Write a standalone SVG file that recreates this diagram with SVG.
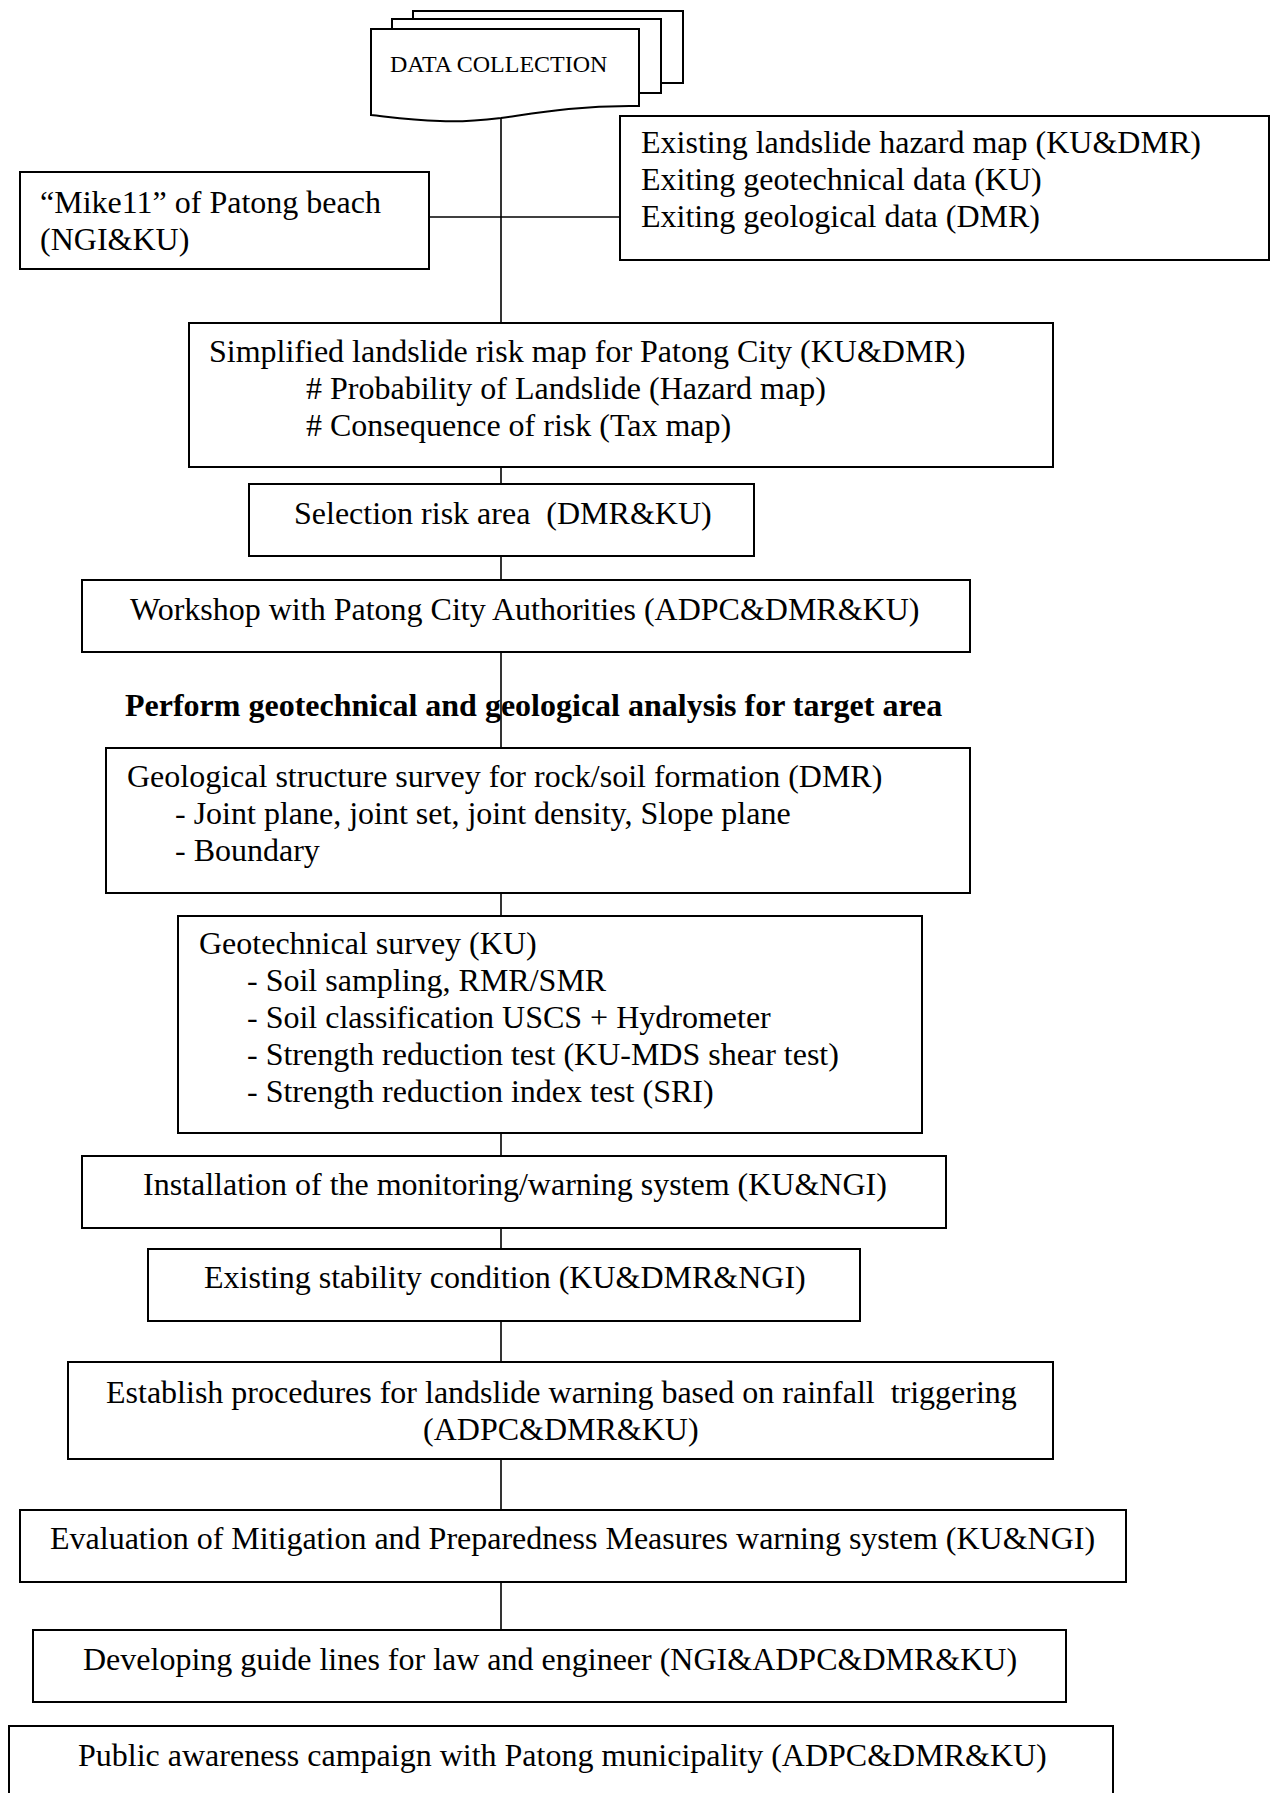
<svg xmlns="http://www.w3.org/2000/svg" width="1278" height="1793" viewBox="0 0 1278 1793">
<style>
.box{fill:#fff;stroke:#000;stroke-width:2}
.ln{fill:none;stroke:#000;stroke-width:1.6}
text{font-family:"Liberation Serif","Times New Roman",serif;font-size:32px;fill:#000;white-space:pre}
.small{font-size:24px}
.bold{font-weight:bold}
</style>
<rect width="1278" height="1793" fill="#fff"/>
<g id="connectors">
<line class="ln" x1="501" y1="117" x2="501" y2="323"/>
<line class="ln" x1="429" y1="217" x2="620" y2="217"/>
<line class="ln" x1="501" y1="467" x2="501" y2="484"/>
<line class="ln" x1="501" y1="556" x2="501" y2="580"/>
<line class="ln" x1="501" y1="652" x2="501" y2="748"/>
<line class="ln" x1="501" y1="893" x2="501" y2="916"/>
<line class="ln" x1="501" y1="1133" x2="501" y2="1156"/>
<line class="ln" x1="501" y1="1228" x2="501" y2="1249"/>
<line class="ln" x1="501" y1="1321" x2="501" y2="1362"/>
<line class="ln" x1="501" y1="1459" x2="501" y2="1510"/>
<line class="ln" x1="501" y1="1582" x2="501" y2="1630"/>
</g>
<g id="data-collection">
<rect class="box" x="413" y="11" width="270" height="72"/>
<rect class="box" x="392" y="19" width="269" height="74"/>
<path class="box" d="M371,29 H639 V106 C575,105 530,114 501,118 C475,121 455,122 440,121 C410,120 390,117 371,115 Z"/>
<text class="small" x="390" y="72">DATA COLLECTION</text>
</g>
<g id="mike11">
<rect class="box" x="20" y="172" width="409" height="97"/>
<text x="40" y="213">“Mike11” of Patong beach</text>
<text x="40" y="250">(NGI&amp;KU)</text>
</g>
<g id="existing-data">
<rect class="box" x="620" y="116" width="649" height="144"/>
<text x="641" y="153">Existing landslide hazard map (KU&amp;DMR)</text>
<text x="641" y="190">Exiting geotechnical data (KU)</text>
<text x="641" y="227">Exiting geological data (DMR)</text>
</g>
<g id="risk-map">
<rect class="box" x="189" y="323" width="864" height="144"/>
<text x="209" y="362">Simplified landslide risk map for Patong City (KU&amp;DMR)</text>
<text x="306" y="399"># Probability of Landslide (Hazard map)</text>
<text x="306" y="436"># Consequence of risk (Tax map)</text>
</g>
<g id="selection">
<rect class="box" x="249" y="484" width="505" height="72"/>
<text x="294" y="524">Selection risk area  (DMR&amp;KU)</text>
</g>
<g id="workshop">
<rect class="box" x="82" y="580" width="888" height="72"/>
<text x="130" y="620">Workshop with Patong City Authorities (ADPC&amp;DMR&amp;KU)</text>
</g>
<g id="heading">
<text class="bold" x="125" y="716">Perform geotechnical and geological analysis for target area</text>
</g>
<g id="geological">
<rect class="box" x="106" y="748" width="864" height="145"/>
<text x="127" y="787">Geological structure survey for rock/soil formation (DMR)</text>
<text x="175" y="824">- Joint plane, joint set, joint density, Slope plane</text>
<text x="175" y="861">- Boundary</text>
</g>
<g id="geotechnical">
<rect class="box" x="178" y="916" width="744" height="217"/>
<text x="199" y="954">Geotechnical survey (KU)</text>
<text x="247" y="991">- Soil sampling, RMR/SMR</text>
<text x="247" y="1028">- Soil classification USCS + Hydrometer</text>
<text x="247" y="1065">- Strength reduction test (KU-MDS shear test)</text>
<text x="247" y="1102">- Strength reduction index test (SRI)</text>
</g>
<g id="installation">
<rect class="box" x="82" y="1156" width="864" height="72"/>
<text x="143" y="1195">Installation of the monitoring/warning system (KU&amp;NGI)</text>
</g>
<g id="stability">
<rect class="box" x="148" y="1249" width="712" height="72"/>
<text x="204" y="1288">Existing stability condition (KU&amp;DMR&amp;NGI)</text>
</g>
<g id="procedures">
<rect class="box" x="68" y="1362" width="985" height="97"/>
<text x="106" y="1403">Establish procedures for landslide warning based on rainfall  triggering</text>
<text x="423" y="1440">(ADPC&amp;DMR&amp;KU)</text>
</g>
<g id="evaluation">
<rect class="box" x="20" y="1510" width="1106" height="72"/>
<text x="50" y="1549">Evaluation of Mitigation and Preparedness Measures warning system (KU&amp;NGI)</text>
</g>
<g id="guidelines">
<rect class="box" x="33" y="1630" width="1033" height="72"/>
<text x="83" y="1670">Developing guide lines for law and engineer (NGI&amp;ADPC&amp;DMR&amp;KU)</text>
</g>
<g id="public">
<rect class="box" x="9" y="1726" width="1104" height="90"/>
<text x="78" y="1766">Public awareness campaign with Patong municipality (ADPC&amp;DMR&amp;KU)</text>
</g>
</svg>
